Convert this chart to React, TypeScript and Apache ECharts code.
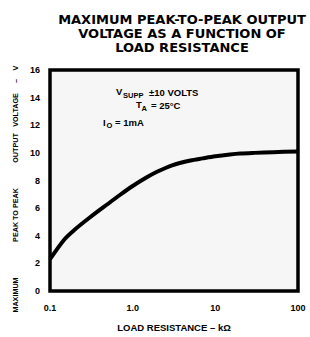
import React, { useEffect, useRef } from "react";
import * as echarts from "echarts";

const loadResistance = [0.1, 0.15, 0.2, 0.3, 0.5, 0.7, 1.0, 1.5, 2, 3, 5, 7, 10, 15, 20, 30, 50, 100];
const outputVoltage = [2.3, 3.75, 4.45, 5.3, 6.3, 6.95, 7.6, 8.25, 8.65, 9.1, 9.45, 9.6, 9.75, 9.88, 9.95, 10.0, 10.05, 10.1];
const xTickValues = [0.1, 1, 10, 100];
const xTickLabels = ["0.1", "1.0", "10", "100"];
const yTicks = [0, 2, 4, 6, 8, 10, 12, 14, 16];
const yNameParts = ["MAXIMUM", "PEAK TO PEAK", "OUTPUT", "VOLTAGE", "–", "V"];

const FONT = "Liberation Sans, Arial, sans-serif";
const TITLE_FONT = "DejaVu Sans, Liberation Sans, sans-serif";

export default function App() {
  const ref = useRef<HTMLDivElement>(null);
  useEffect(() => {
    if (!ref.current) return;
    const chart = echarts.init(ref.current, null, { renderer: "svg" });
    const data = loadResistance.map((x, i) => [x, outputVoltage[i]]);
    const bold = (size: number) => ({ fontFamily: FONT, fontWeight: "bold" as const, fontSize: size, fill: "#000" });
    const yNameCenters = [295, 215, 148, 110, 81, 68];
    const yNameGraphics = yNameParts.map((t, i) => ({
      type: "text",
      x: 15,
      y: yNameCenters[i],
      rotation: Math.PI / 2,
      style: { ...bold(7.2), text: t, align: "center", verticalAlign: "middle" },
    }));
    chart.setOption({
      animation: false,
      backgroundColor: "#fff",
      title: {
        text: "MAXIMUM PEAK-TO-PEAK OUTPUT\nVOLTAGE AS A FUNCTION OF\nLOAD RESISTANCE",
        left: 177,
        top: 7,
        textAlign: "center",
        textStyle: { fontFamily: TITLE_FONT, fontWeight: "bold", fontSize: 13, lineHeight: 14, color: "#000" },
      },
      grid: {
        left: 50,
        right: 12,
        top: 70,
        bottom: 35,
        show: true,
        borderColor: "#000",
        borderWidth: 3.5,
        backgroundColor: "#f6f6f6",
      },
      xAxis: {
        type: "log",
        logBase: 10,
        min: 0.1,
        max: 100,
        name: "LOAD RESISTANCE – kΩ",
        nameLocation: "middle",
        nameGap: 31,
        nameTextStyle: { fontFamily: FONT, fontWeight: "bold", fontSize: 9.5, color: "#000" },
        axisLine: { show: false },
        axisTick: { show: false },
        splitLine: { show: false },
        axisLabel: {
          margin: 12,
          fontFamily: FONT,
          fontWeight: "bold",
          fontSize: 9,
          color: "#000",
          formatter: (v: number) => {
            const i = xTickValues.findIndex((t) => Math.abs(t - v) / t < 1e-6);
            return i >= 0 ? xTickLabels[i] : "";
          },
        },
      },
      yAxis: {
        type: "value",
        min: yTicks[0],
        max: yTicks[yTicks.length - 1],
        interval: 2,
        axisLine: { show: false },
        axisTick: { show: false },
        splitLine: { show: false },
        axisLabel: { margin: 10, fontFamily: FONT, fontWeight: "bold", fontSize: 9, color: "#000" },
      },
      series: [
        {
          type: "line",
          data,
          smooth: 0.3,
          symbol: "none",
          lineStyle: { color: "#000", width: 4 },
          clip: true,
        },
      ],
      graphic: [
        ...yNameGraphics,
        { type: "text", x: 116, y: 91, style: { ...bold(9.5), text: "V", verticalAlign: "middle" } },
        { type: "text", x: 123, y: 95.5, style: { ...bold(7.5), text: "SUPP", verticalAlign: "middle" } },
        { type: "text", x: 149, y: 92, style: { ...bold(9.5), text: "±10 VOLTS", verticalAlign: "middle" } },
        { type: "text", x: 136, y: 104, style: { ...bold(9.5), text: "T", verticalAlign: "middle" } },
        { type: "text", x: 141.5, y: 108.5, style: { ...bold(7.5), text: "A", verticalAlign: "middle" } },
        { type: "text", x: 151, y: 105, style: { ...bold(9.5), text: "= 25°C", verticalAlign: "middle" } },
        { type: "text", x: 103, y: 122, style: { ...bold(9.5), text: "I", verticalAlign: "middle" } },
        { type: "text", x: 106.5, y: 125.5, style: { ...bold(7.5), text: "O", verticalAlign: "middle" } },
        { type: "text", x: 115, y: 122, style: { ...bold(9.5), text: "= 1mA", verticalAlign: "middle" } },
      ],
    });
    return () => chart.dispose();
  }, []);
  return <div ref={ref} style={{ position: "fixed", left: 0, top: 0, width: 310, height: 337 }} />;
}
